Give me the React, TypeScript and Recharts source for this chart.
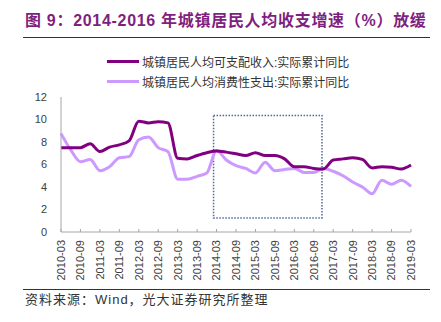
import { LineChart, Line, XAxis, YAxis, ReferenceArea } from "recharts";

const quarters = [
  "2010-03", "2010-06", "2010-09", "2010-12",
  "2011-03", "2011-06", "2011-09", "2011-12",
  "2012-03", "2012-06", "2012-09", "2012-12",
  "2013-03", "2013-06", "2013-09", "2013-12",
  "2014-03", "2014-06", "2014-09", "2014-12",
  "2015-03", "2015-06", "2015-09", "2015-12",
  "2016-03", "2016-06", "2016-09", "2016-12",
  "2017-03", "2017-06", "2017-09", "2017-12",
  "2018-03", "2018-06", "2018-09", "2018-12",
  "2019-03",
];

// 城镇居民人均可支配收入:实际累计同比
const income = [
  7.5, 7.5, 7.5, 7.85, 7.15, 7.55, 7.75, 8.1,
  9.85, 9.7, 9.8, 9.7, 6.55, 6.5, 6.8, 7.05,
  7.2, 7.1, 6.95, 6.8, 7.05, 6.8, 6.8, 6.5,
  5.8, 5.8, 5.65, 5.6, 6.4, 6.5, 6.6, 6.45,
  5.7, 5.8, 5.75, 5.6, 5.95,
];

// 城镇居民人均消费性支出:实际累计同比
const spending = [
  8.75, 7.3, 6.25, 6.45, 5.45, 5.8, 6.6, 6.7,
  8.2, 8.45, 7.5, 7.15, 4.7, 4.7, 4.95, 5.25,
  7.25, 6.4, 5.9, 5.65, 5.25, 6.2, 5.45, 5.55,
  5.65, 5.3, 5.3, 5.65, 5.4, 5.0, 4.45, 4.0,
  3.4, 4.6, 4.25, 4.6, 4.05,
];

const seriesNames = [
  "城镇居民人均可支配收入:实际累计同比",
  "城镇居民人均消费性支出:实际累计同比",
];
const yTicks = [0, 2, 4, 6, 8, 10, 12];
const box = { from: "2014-03", to: "2016-12", low: 1.25, high: 10.35 };

const DARK = "#800080";
const LIGHT = "#cc99ff";
const LATIN = '"Liberation Sans", Arial, "Noto Sans CJK SC", sans-serif';

const data = quarters.map((q, i) => ({ q, income: income[i], spending: spending[i] }));

const XTick = (props: any) => {
  const { x, y, payload } = props;
  return (
    <g>
      <line x1={x} x2={x} y1={y - 3} y2={y} stroke="#a6a6a6" />
      <text
        x={x}
        y={y + 8}
        transform={`rotate(-90 ${x} ${y + 8})`}
        textAnchor="end"
        dy="0.35em"
        fontSize={11}
        fontFamily={LATIN}
        fill="#404040"
      >
        {payload.value}
      </text>
    </g>
  );
};

const DottedBox = (props: any) => {
  const { x, y, width, height } = props;
  return (
    <rect
      x={x - 3}
      y={y}
      width={width + 1.5}
      height={height}
      fill="none"
      stroke="#4a6a9a"
      strokeWidth={1.5}
      strokeDasharray="1.5 1.5"
    />
  );
};

export default function App() {
  return (
    <div
      style={{
        position: "fixed",
        left: 0,
        top: 0,
        width: 441,
        height: 322,
        background: "#fff",
        fontFamily: LATIN,
      }}
    >
      <div
        style={{
          position: "absolute",
          left: 25,
          top: 12,
          fontSize: 16,
          lineHeight: "18px",
          fontWeight: 700,
          color: "#7f1f7f",
          letterSpacing: 0.7,
          whiteSpace: "nowrap",
        }}
      >
        图 9：2014-2016 年城镇居民人均收支增速（%）放缓
      </div>
      <div style={{ position: "absolute", left: 23, top: 37, width: 407, height: 1, background: "#333" }} />

      {seriesNames.map((name, i) => (
        <div
          key={name}
          style={{
            position: "absolute",
            left: 107,
            top: 53 + i * 20.5,
            height: 16,
            display: "flex",
            alignItems: "center",
            fontSize: 12,
            color: "#333",
            whiteSpace: "nowrap",
          }}
        >
          <span style={{ display: "inline-block", width: 32, height: 3, background: i === 0 ? DARK : LIGHT, marginRight: 3 }} />
          {name}
        </div>
      ))}

      <div style={{ position: "absolute", left: 0, top: 0 }}>
        <LineChart width={441} height={322} data={data} margin={{ top: 97, right: 30, left: 0, bottom: 0 }}>
          <XAxis
            dataKey="q"
            interval={1}
            height={90}
            tickSize={0}
            tickMargin={0}
            tick={<XTick />}
            axisLine={{ stroke: "#a6a6a6" }}
            tickLine={false}
          />
          <YAxis
            width={61}
            domain={[0, 12]}
            ticks={yTicks}
            tickLine={false}
            tickSize={6}
            tickMargin={8}
            axisLine={{ stroke: "#a6a6a6" }}
            tick={{ fontSize: 11, fill: "#404040", fontFamily: LATIN }}
          />
          <Line type="monotone" dataKey="spending" stroke={LIGHT} strokeWidth={3} dot={false} isAnimationActive={false} />
          <Line type="monotone" dataKey="income" stroke={DARK} strokeWidth={3} dot={false} isAnimationActive={false} />
          <ReferenceArea x1={box.from} x2={box.to} y1={box.low} y2={box.high} shape={<DottedBox />} />
        </LineChart>
      </div>

      <div style={{ position: "absolute", left: 23, top: 289, width: 407, height: 1, background: "#333" }} />
      <div
        style={{
          position: "absolute",
          left: 25,
          top: 292,
          fontSize: 13,
          lineHeight: "16px",
          letterSpacing: 1,
          color: "#333",
          whiteSpace: "nowrap",
        }}
      >
        资料来源：Wind，光大证券研究所整理
      </div>
    </div>
  );
}
